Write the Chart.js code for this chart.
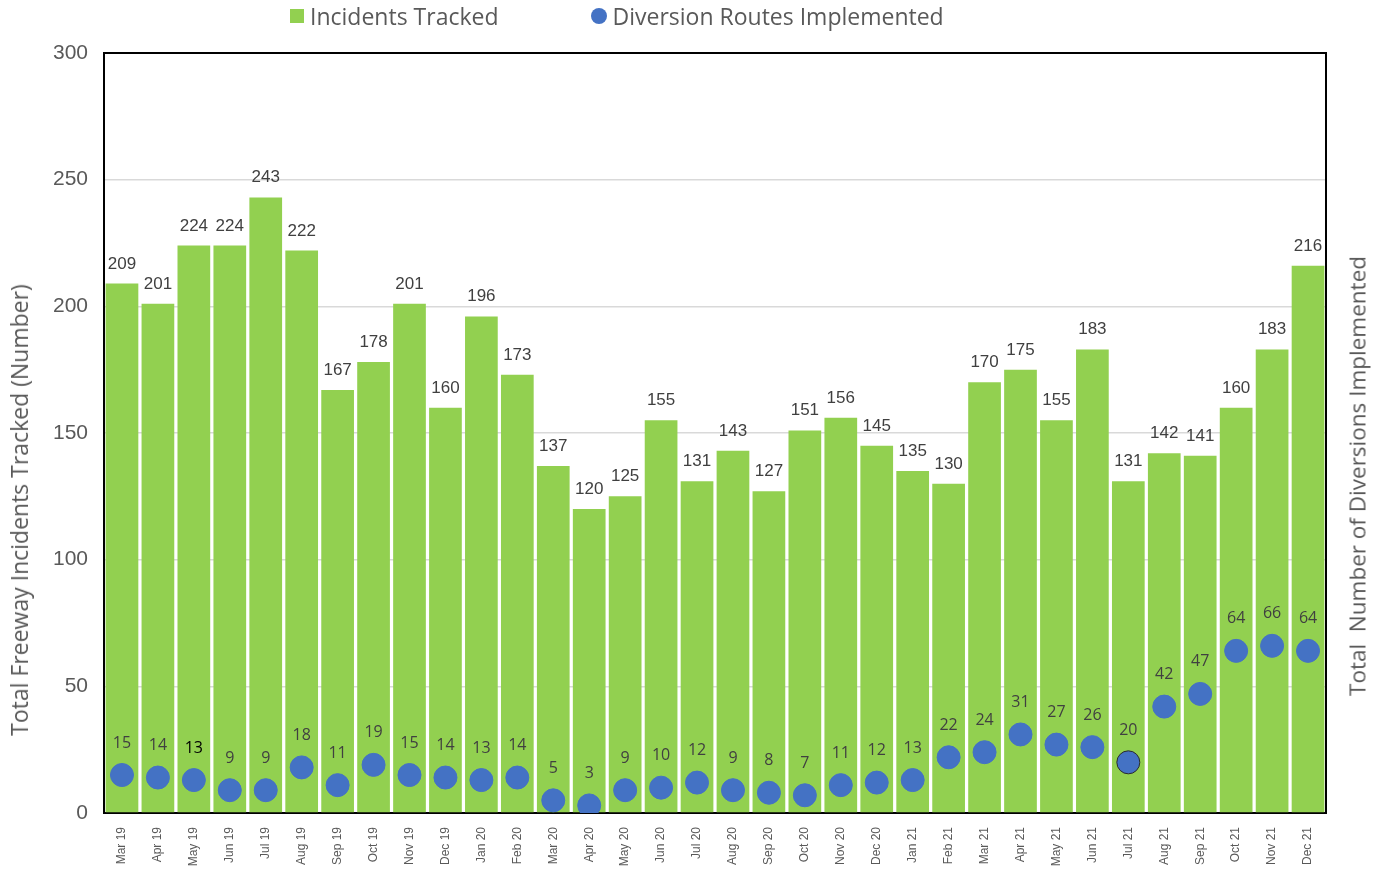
<!DOCTYPE html>
<html>
<head>
<meta charset="utf-8">
<script src="https://cdn.jsdelivr.net/npm/chart.js@4.4.1/dist/chart.umd.min.js"></script>
<style>
  html, body { margin: 0; padding: 0; background: #fff; }
  #wrap { position: relative; width: 1382px; height: 869px; }
  #legend { position: absolute; top: 0px; left: 290px; font-family: "Open Sans", sans-serif; font-size: 23px; color: #595959; display: flex; align-items: center; }
  #legend .item { display: flex; align-items: center; }
  #legend .sw { width: 14px; height: 14px; margin-right: 6px; }
  .vtitle { position: absolute; transform: translate(-50%, -50%) rotate(-90deg); white-space: pre; font-family: "Open Sans", sans-serif; font-size: 23px; color: #595959; }
</style>
</head>
<body>
<div id="wrap">
  <canvas id="chart" width="1382" height="869"></canvas>
  <div id="legend">
    <div class="item"><span class="sw" style="background:#92D050"></span>Incidents Tracked</div>
    <div class="item" style="margin-left:92px"><span class="sw" style="background:#4472C4;border-radius:50%;width:16px;height:16px"></span>Diversion Routes Implemented</div>
  </div>
  <div class="vtitle" style="left:19px;top:510px">Total Freeway Incidents Tracked (Number)</div>
  <div class="vtitle" style="left:1357px;top:476px;font-size:22.5px">Total  Number of Diversions Implemented</div>
</div>
<script>
// Monthly data
const months = ['Mar 19','Apr 19','May 19','Jun 19','Jul 19','Aug 19','Sep 19','Oct 19','Nov 19','Dec 19',
  'Jan 20','Feb 20','Mar 20','Apr 20','May 20','Jun 20','Jul 20','Aug 20','Sep 20','Oct 20','Nov 20','Dec 20',
  'Jan 21','Feb 21','Mar 21','Apr 21','May 21','Jun 21','Jul 21','Aug 21','Sep 21','Oct 21','Nov 21','Dec 21'];
const incidents = [209,201,224,224,243,222,167,178,201,160,196,173,137,120,125,155,131,143,127,151,156,145,
  135,130,170,175,155,183,131,142,141,160,183,216];
const diversions = [15,14,13,9,9,18,11,19,15,14,13,14,5,3,9,10,12,9,8,7,11,12,13,22,24,31,27,26,20,42,47,64,66,64];
const yTicks = [0,50,100,150,200,250,300];

// value labels + plot frame
const labelPlugin = {
  id: 'labels',
  beforeDatasetsDraw(chart) {
    const a = chart.chartArea, ctx = chart.ctx;
    ctx.save();
    ctx.strokeStyle = '#000';
    ctx.lineWidth = 2;
    ctx.strokeRect(a.left, a.top, a.right - a.left, a.bottom - a.top);
    ctx.restore();
  },
  afterDatasetsDraw(chart) {
    const ctx = chart.ctx;
    ctx.save();
    ctx.textAlign = 'center';
    ctx.fillStyle = '#404040';
    ctx.font = '17px "Liberation Sans", Arial, sans-serif';
    ctx.textBaseline = 'alphabetic';
    chart.getDatasetMeta(0).data.forEach((bar, i) => {
      ctx.fillText(incidents[i], bar.x, bar.y - 15);
    });
    ctx.font = '16px "Open Sans", sans-serif';
    ctx.textBaseline = 'middle';
    chart.getDatasetMeta(1).data.forEach((pt, i) => {
      ctx.fillStyle = i === 2 ? '#000' : '#404040';
      ctx.fillText(diversions[i], pt.x, pt.y - 32);
    });
    ctx.restore();
  }
};

const ctx = document.getElementById('chart').getContext('2d');
new Chart(ctx, {
  data: {
    labels: months,
    datasets: [{
      type: 'bar',
      label: 'Incidents Tracked',
      data: incidents,
      backgroundColor: '#92D050',
      categoryPercentage: 1.0,
      barPercentage: 0.91,
      order: 2
    }, {
      type: 'line',
      label: 'Diversion Routes Implemented',
      data: diversions,
      showLine: false,
      pointRadius: 11.5,
      pointBackgroundColor: '#4472C4',
      pointBorderColor: (c) => c.dataIndex === 28 ? '#2b2b2b' : '#4472C4',
      pointBorderWidth: 1,
      yAxisID: 'y1',
      order: 1
    }]
  },
  options: {
    responsive: false,
    animation: false,
    layout: { padding: { top: 53, right: 56, left: 0, bottom: 0 } },
    plugins: {
      legend: { display: false },
      tooltip: { enabled: false }
    },
    scales: {
      x: {
        grid: { display: false },
        border: { color: '#000', width: 2 },
        ticks: {
          color: '#595959',
          font: { family: '"Liberation Sans", Arial, sans-serif', size: 12 },
          minRotation: 90, maxRotation: 90, padding: 6, autoSkip: false
        },
        afterFit(scale) { scale.height = 56; }
      },
      y: {
        min: 0, max: 300,
        afterBuildTicks(scale) { scale.ticks = yTicks.map(v => ({ value: v })); },
        grid: { color: '#d9d9d9', lineWidth: 1.5, drawTicks: false },
        border: { color: '#000', width: 2 },
        ticks: {
          color: '#595959',
          padding: 16,
          font: { family: '"Liberation Sans", Arial, sans-serif', size: 21 }
        },
        afterFit(scale) { scale.width = 104; }
      },
      y1: {
        display: false,
        min: 0, max: 300
      }
    }
  },
  plugins: [labelPlugin]
});
</script>
</body>
</html>
